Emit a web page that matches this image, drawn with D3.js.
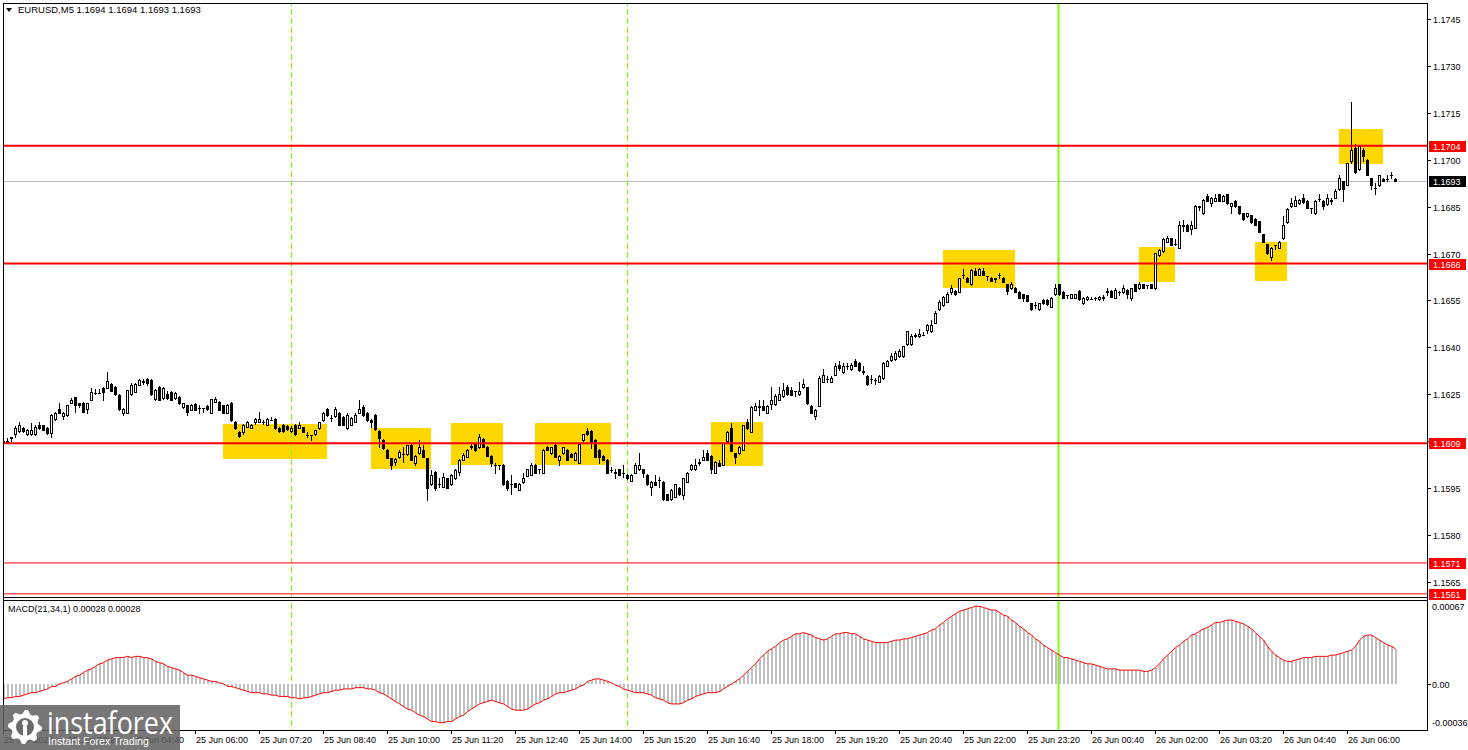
<!DOCTYPE html>
<html><head><meta charset="utf-8">
<script src="https://cdn.jsdelivr.net/npm/d3@7"></script>
<style>html,body{margin:0;padding:0;background:#fff;overflow:hidden}</style>
</head><body><svg id="c" width="1468" height="750"></svg>
<script>
const symbolName = "EURUSD,M5";
const open = [1.16098,1.16098,1.16111,1.16122,1.16133,1.16143,1.16122,1.16122,1.16122,1.16152,
1.16150,1.16143,1.16125,1.16171,1.16202,1.16181,1.16184,1.16223,1.16240,1.16221,
1.16223,1.16203,1.16232,1.16253,1.16254,1.16271,1.16271,1.16283,1.16274,1.16248,
1.16191,1.16191,1.16251,1.16258,1.16280,1.16290,1.16299,1.16296,1.16234,1.16274,
1.16237,1.16250,1.16258,1.16237,1.16242,1.16208,1.16214,1.16200,1.16219,1.16205,
1.16205,1.16213,1.16191,1.16226,1.16226,1.16214,1.16191,1.16223,1.16160,1.16130,
1.16130,1.16146,1.16143,1.16160,1.16162,1.16160,1.16152,1.16167,1.16170,1.16143,
1.16152,1.16149,1.16133,1.16152,1.16143,1.16144,1.16120,1.16118,1.16122,1.16141,
1.16168,1.16202,1.16173,1.16181,1.16191,1.16178,1.16141,1.16152,1.16162,1.16191,
1.16210,1.16191,1.16168,1.16184,1.16133,1.16104,1.16072,1.16045,1.16032,1.16050,
1.16058,1.16058,1.16088,1.16029,1.16061,1.16072,1.16045,1.15962,1.16002,1.15962,
1.15954,1.15981,1.15962,1.15981,1.16002,1.16040,1.16050,1.16082,1.16091,1.16080,
1.16106,1.16082,1.16053,1.16024,1.16023,1.16024,1.15973,1.15962,1.15965,1.15944,
1.15970,1.15989,1.15992,1.16024,1.16010,1.15999,1.16082,1.16061,1.16088,1.16040,
1.16061,1.16072,1.16058,1.16040,1.16031,1.16102,1.16133,1.16133,1.16104,1.16072,
1.16053,1.16040,1.16008,1.15999,1.16010,1.15997,1.15992,1.15973,1.15999,1.16010,
1.16010,1.15992,1.15954,1.15970,1.15976,1.15970,1.15930,1.15914,1.15922,1.15951,
1.15928,1.15970,1.16010,1.16010,1.16031,1.16040,1.16061,1.16053,1.15999,1.16029,
1.16024,1.16099,1.16141,1.16061,1.16061,1.16072,1.16160,1.16130,1.16200,1.16210,
1.16213,1.16191,1.16219,1.16219,1.16232,1.16243,1.16272,1.16264,1.16259,1.16250,
1.16272,1.16272,1.16213,1.16181,1.16213,1.16290,1.16299,1.16290,1.16312,1.16344,
1.16320,1.16339,1.16330,1.16355,1.16351,1.16323,1.16309,1.16298,1.16296,1.16290,
1.16301,1.16341,1.16358,1.16362,1.16371,1.16371,1.16411,1.16411,1.16437,1.16435,
1.16440,1.16456,1.16451,1.16479,1.16523,1.16534,1.16546,1.16578,1.16581,1.16578,
1.16632,1.16623,1.16602,1.16645,1.16632,1.16645,1.16628,1.16623,1.16621,1.16632,
1.16623,1.16602,1.16589,1.16591,1.16578,1.16570,1.16566,1.16541,1.16536,1.16523,
1.16552,1.16552,1.16530,1.16570,1.16602,1.16578,1.16568,1.16559,1.16559,1.16581,
1.16541,1.16555,1.16555,1.16559,1.16555,1.16559,1.16578,1.16581,1.16559,1.16578,
1.16576,1.16584,1.16559,1.16602,1.16589,1.16602,1.16600,1.16602,1.16589,1.16694,
1.16707,1.16738,1.16749,1.16730,1.16719,1.16792,1.16792,1.16779,1.16783,1.16851,
1.16829,1.16883,1.16861,1.16869,1.16890,1.16869,1.16890,1.16851,1.16869,1.16851,
1.16829,1.16819,1.16822,1.16811,1.16803,1.16762,1.16730,1.16690,1.16728,1.16719,
1.16749,1.16800,1.16851,1.16853,1.16861,1.16877,1.16869,1.16845,1.16829,1.16875,
1.16869,1.16858,1.16869,1.16879,1.16907,1.16931,1.16920,1.16995,1.17039,1.16971,
1.17032,1.17000,1.16941,1.16909,1.16918,1.16939,1.16939,1.16952,1.16940];
const high = [1.16106,1.16111,1.16113,1.16149,1.16160,1.16146,1.16139,1.16159,1.16150,1.16160,
1.16152,1.16146,1.16186,1.16194,1.16221,1.16194,1.16216,1.16237,1.16242,1.16223,
1.16226,1.16223,1.16269,1.16267,1.16267,1.16273,1.16320,1.16286,1.16276,1.16250,
1.16206,1.16264,1.16285,1.16286,1.16299,1.16299,1.16303,1.16299,1.16267,1.16276,
1.16274,1.16261,1.16261,1.16258,1.16244,1.16223,1.16216,1.16219,1.16221,1.16216,
1.16207,1.16216,1.16236,1.16240,1.16228,1.16216,1.16219,1.16226,1.16165,1.16133,
1.16154,1.16165,1.16154,1.16173,1.16192,1.16168,1.16173,1.16178,1.16173,1.16146,
1.16154,1.16152,1.16149,1.16154,1.16160,1.16146,1.16130,1.16120,1.16136,1.16162,
1.16194,1.16205,1.16184,1.16210,1.16194,1.16181,1.16191,1.16178,1.16191,1.16232,
1.16216,1.16194,1.16170,1.16186,1.16136,1.16106,1.16074,1.16047,1.16045,1.16072,
1.16082,1.16088,1.16090,1.16054,1.16104,1.16088,1.16047,1.16008,1.16004,1.15981,
1.15997,1.15983,1.15994,1.16010,1.16042,1.16061,1.16074,1.16093,1.16093,1.16122,
1.16109,1.16084,1.16055,1.16029,1.16025,1.16026,1.15975,1.15992,1.15967,1.15965,
1.15999,1.16012,1.16031,1.16026,1.16012,1.16074,1.16084,1.16082,1.16090,1.16055,
1.16082,1.16074,1.16061,1.16066,1.16093,1.16124,1.16143,1.16135,1.16106,1.16074,
1.16055,1.16042,1.16018,1.16010,1.16012,1.16024,1.15994,1.15994,1.16031,1.16061,
1.16012,1.15994,1.15972,1.15992,1.15986,1.15972,1.15932,1.15946,1.15964,1.15953,
1.15983,1.16001,1.16026,1.16042,1.16042,1.16072,1.16072,1.16055,1.16036,1.16040,
1.16095,1.16132,1.16159,1.16063,1.16084,1.16152,1.16170,1.16212,1.16223,1.16232,
1.16232,1.16215,1.16272,1.16250,1.16274,1.16285,1.16280,1.16274,1.16261,1.16290,
1.16298,1.16274,1.16215,1.16202,1.16309,1.16330,1.16309,1.16309,1.16351,1.16355,
1.16349,1.16351,1.16351,1.16362,1.16353,1.16339,1.16311,1.16312,1.16303,1.16311,
1.16353,1.16358,1.16381,1.16387,1.16394,1.16405,1.16453,1.16442,1.16445,1.16458,
1.16450,1.16474,1.16488,1.16515,1.16552,1.16564,1.16578,1.16600,1.16583,1.16623,
1.16651,1.16625,1.16650,1.16653,1.16653,1.16653,1.16629,1.16625,1.16622,1.16637,
1.16625,1.16604,1.16610,1.16593,1.16580,1.16572,1.16568,1.16543,1.16544,1.16543,
1.16554,1.16554,1.16561,1.16602,1.16604,1.16580,1.16569,1.16572,1.16572,1.16583,
1.16561,1.16564,1.16562,1.16560,1.16564,1.16566,1.16589,1.16583,1.16591,1.16579,
1.16600,1.16586,1.16591,1.16604,1.16610,1.16604,1.16601,1.16604,1.16703,1.16714,
1.16749,1.16755,1.16751,1.16747,1.16803,1.16808,1.16794,1.16803,1.16855,1.16852,
1.16874,1.16890,1.16881,1.16890,1.16892,1.16888,1.16892,1.16863,1.16871,1.16853,
1.16831,1.16831,1.16824,1.16813,1.16805,1.16764,1.16732,1.16721,1.16729,1.16740,
1.16819,1.16845,1.16879,1.16883,1.16874,1.16890,1.16871,1.16847,1.16871,1.16890,
1.16871,1.16890,1.16879,1.16907,1.16952,1.16933,1.16991,1.17185,1.17050,1.17045,
1.17037,1.17002,1.16943,1.16925,1.16952,1.16941,1.16950,1.16960,1.16942];
const low = [1.16097,1.16097,1.16100,1.16114,1.16130,1.16130,1.16120,1.16120,1.16120,1.16139,
1.16134,1.16122,1.16114,1.16168,1.16189,1.16171,1.16181,1.16221,1.16192,1.16210,
1.16192,1.16191,1.16230,1.16252,1.16253,1.16232,1.16269,1.16259,1.16248,1.16200,
1.16184,1.16189,1.16249,1.16256,1.16278,1.16283,1.16278,1.16248,1.16232,1.16230,
1.16234,1.16234,1.16230,1.16234,1.16219,1.16205,1.16184,1.16198,1.16198,1.16189,
1.16194,1.16200,1.16189,1.16224,1.16198,1.16189,1.16189,1.16165,1.16139,1.16112,
1.16122,1.16144,1.16141,1.16154,1.16160,1.16154,1.16150,1.16166,1.16139,1.16130,
1.16130,1.16134,1.16130,1.16120,1.16141,1.16128,1.16112,1.16104,1.16118,1.16139,
1.16165,1.16181,1.16165,1.16178,1.16150,1.16150,1.16139,1.16150,1.16160,1.16189,
1.16181,1.16165,1.16146,1.16136,1.16082,1.16074,1.16045,1.16011,1.16024,1.16045,
1.16034,1.16056,1.16038,1.16024,1.16059,1.16048,1.15912,1.15960,1.15944,1.15954,
1.15952,1.15949,1.15960,1.15979,1.15992,1.16038,1.16048,1.16076,1.16068,1.16078,
1.16080,1.16051,1.16021,1.15999,1.16010,1.15960,1.15944,1.15930,1.15952,1.15942,
1.15965,1.15987,1.15990,1.15997,1.15997,1.15997,1.16070,1.16059,1.16048,1.16024,
1.16059,1.16038,1.16048,1.16038,1.16029,1.16099,1.16121,1.16079,1.16048,1.16029,
1.16038,1.15997,1.16002,1.15981,1.15990,1.15986,1.15979,1.15971,1.15997,1.16008,
1.15986,1.15960,1.15928,1.15958,1.15954,1.15912,1.15910,1.15912,1.15920,1.15928,
1.15915,1.15968,1.16008,1.16008,1.16024,1.16038,1.16038,1.15999,1.15997,1.16019,
1.16022,1.16097,1.16067,1.16031,1.16059,1.16070,1.16139,1.16128,1.16198,1.16184,
1.16198,1.16189,1.16202,1.16217,1.16230,1.16241,1.16249,1.16246,1.16245,1.16248,
1.16270,1.16219,1.16189,1.16170,1.16211,1.16288,1.16290,1.16288,1.16310,1.16328,
1.16318,1.16330,1.16328,1.16339,1.16324,1.16315,1.16281,1.16285,1.16283,1.16288,
1.16299,1.16339,1.16356,1.16360,1.16369,1.16369,1.16409,1.16409,1.16432,1.16433,
1.16439,1.16445,1.16449,1.16477,1.16521,1.16532,1.16544,1.16570,1.16568,1.16576,
1.16623,1.16608,1.16600,1.16630,1.16630,1.16630,1.16615,1.16611,1.16610,1.16621,
1.16608,1.16570,1.16587,1.16576,1.16557,1.16549,1.16547,1.16521,1.16525,1.16521,
1.16539,1.16536,1.16528,1.16568,1.16568,1.16557,1.16557,1.16557,1.16557,1.16553,
1.16539,1.16553,1.16554,1.16550,1.16553,1.16552,1.16568,1.16560,1.16557,1.16568,
1.16574,1.16559,1.16552,1.16579,1.16587,1.16589,1.16591,1.16589,1.16587,1.16692,
1.16705,1.16736,1.16726,1.16729,1.16717,1.16773,1.16771,1.16762,1.16781,1.16840,
1.16827,1.16867,1.16851,1.16867,1.16867,1.16867,1.16859,1.16829,1.16849,1.16827,
1.16809,1.16817,1.16798,1.16790,1.16768,1.16736,1.16699,1.16680,1.16715,1.16717,
1.16747,1.16798,1.16849,1.16851,1.16859,1.16862,1.16845,1.16829,1.16827,1.16867,
1.16843,1.16856,1.16858,1.16877,1.16905,1.16869,1.16918,1.16989,1.16958,1.16969,
1.16997,1.16950,1.16907,1.16890,1.16916,1.16931,1.16931,1.16941,1.16931];
const close = [1.16099,1.16099,1.16112,1.16141,1.16152,1.16133,1.16136,1.16134,1.16146,1.16141,
1.16136,1.16125,1.16184,1.16191,1.16191,1.16191,1.16214,1.16232,1.16214,1.16214,
1.16194,1.16221,1.16258,1.16254,1.16255,1.16256,1.16293,1.16261,1.16250,1.16203,
1.16203,1.16262,1.16278,1.16283,1.16296,1.16291,1.16285,1.16250,1.16264,1.16232,
1.16271,1.16237,1.16232,1.16253,1.16221,1.16221,1.16194,1.16216,1.16200,1.16206,
1.16206,1.16203,1.16234,1.16235,1.16200,1.16191,1.16216,1.16168,1.16141,1.16117,
1.16152,1.16160,1.16152,1.16170,1.16170,1.16161,1.16170,1.16168,1.16141,1.16133,
1.16133,1.16138,1.16143,1.16122,1.16152,1.16130,1.16121,1.16119,1.16134,1.16160,
1.16191,1.16184,1.16174,1.16202,1.16152,1.16152,1.16184,1.16175,1.16184,1.16202,
1.16184,1.16168,1.16160,1.16139,1.16109,1.16077,1.16047,1.16024,1.16042,1.16064,
1.16059,1.16086,1.16040,1.16052,1.16082,1.16050,1.15949,1.15992,1.15951,1.15963,
1.15986,1.15951,1.15992,1.16008,1.16040,1.16054,1.16072,1.16083,1.16070,1.16114,
1.16082,1.16053,1.16029,1.16025,1.16024,1.15962,1.15951,1.15963,1.15954,1.15963,
1.15981,1.16010,1.16024,1.15999,1.16011,1.16072,1.16072,1.16080,1.16050,1.16053,
1.16080,1.16040,1.16050,1.16063,1.16091,1.16122,1.16123,1.16095,1.16050,1.16050,
1.16040,1.15999,1.16009,1.16000,1.15992,1.15998,1.15981,1.15992,1.16024,1.16024,
1.15997,1.15962,1.15970,1.15960,1.15977,1.15914,1.15912,1.15944,1.15962,1.15930,
1.15981,1.15999,1.16024,1.16024,1.16032,1.16050,1.16040,1.16010,1.16034,1.16021,
1.16093,1.16130,1.16069,1.16050,1.16082,1.16150,1.16141,1.16210,1.16213,1.16211,
1.16200,1.16213,1.16232,1.16243,1.16251,1.16264,1.16251,1.16248,1.16260,1.16261,
1.16283,1.16221,1.16191,1.16200,1.16301,1.16312,1.16300,1.16301,1.16339,1.16333,
1.16339,1.16340,1.16344,1.16341,1.16326,1.16322,1.16283,1.16299,1.16297,1.16309,
1.16351,1.16355,1.16371,1.16381,1.16389,1.16403,1.16451,1.16435,1.16438,1.16443,
1.16441,1.16472,1.16472,1.16511,1.16544,1.16562,1.16570,1.16589,1.16570,1.16621,
1.16633,1.16610,1.16648,1.16632,1.16651,1.16632,1.16627,1.16613,1.16620,1.16631,
1.16610,1.16581,1.16602,1.16578,1.16559,1.16557,1.16549,1.16523,1.16537,1.16541,
1.16541,1.16538,1.16559,1.16589,1.16570,1.16559,1.16567,1.16570,1.16570,1.16555,
1.16559,1.16562,1.16556,1.16558,1.16562,1.16560,1.16579,1.16562,1.16584,1.16577,
1.16589,1.16570,1.16589,1.16581,1.16602,1.16591,1.16599,1.16591,1.16701,1.16712,
1.16747,1.16749,1.16728,1.16731,1.16790,1.16787,1.16773,1.16792,1.16853,1.16850,
1.16872,1.16869,1.16879,1.16879,1.16869,1.16883,1.16861,1.16861,1.16851,1.16829,
1.16811,1.16829,1.16800,1.16792,1.16770,1.16738,1.16701,1.16719,1.16727,1.16738,
1.16792,1.16843,1.16861,1.16872,1.16872,1.16864,1.16847,1.16846,1.16869,1.16876,
1.16851,1.16879,1.16870,1.16899,1.16941,1.16907,1.16989,1.17032,1.16960,1.17043,
1.17011,1.16952,1.16918,1.16910,1.16950,1.16933,1.16940,1.16951,1.16932];
const macdValues = [-0.00012,-0.00011,-0.00011,-0.00010,-0.00010,-0.00009,-0.00008,-0.00007,-0.00007,-0.00006,
-0.00005,-0.00004,-0.00002,-0.00002,0.00000,0.00001,0.00002,0.00004,0.00006,0.00007,
0.00009,0.00011,0.00012,0.00014,0.00016,0.00017,0.00019,0.00020,0.00021,0.00021,
0.00021,0.00022,0.00021,0.00022,0.00022,0.00021,0.00021,0.00020,0.00018,0.00017,
0.00016,0.00014,0.00013,0.00012,0.00011,0.00009,0.00007,0.00007,0.00006,0.00005,
0.00004,0.00003,0.00002,0.00002,0.00001,0.00000,-0.00002,-0.00002,-0.00003,-0.00004,
-0.00005,-0.00006,-0.00007,-0.00007,-0.00007,-0.00008,-0.00008,-0.00009,-0.00009,-0.00010,
-0.00010,-0.00010,-0.00011,-0.00011,-0.00012,-0.00011,-0.00011,-0.00010,-0.00009,-0.00008,
-0.00007,-0.00007,-0.00006,-0.00005,-0.00005,-0.00004,-0.00004,-0.00004,-0.00003,-0.00003,
-0.00003,-0.00004,-0.00004,-0.00005,-0.00007,-0.00008,-0.00010,-0.00012,-0.00014,-0.00016,
-0.00018,-0.00020,-0.00021,-0.00023,-0.00025,-0.00026,-0.00028,-0.00030,-0.00030,-0.00031,
-0.00031,-0.00030,-0.00030,-0.00028,-0.00026,-0.00025,-0.00022,-0.00020,-0.00018,-0.00016,
-0.00015,-0.00014,-0.00013,-0.00014,-0.00015,-0.00016,-0.00018,-0.00020,-0.00021,-0.00021,
-0.00021,-0.00020,-0.00018,-0.00016,-0.00015,-0.00013,-0.00012,-0.00010,-0.00008,-0.00007,
-0.00007,-0.00006,-0.00005,-0.00004,-0.00002,-0.00001,0.00002,0.00003,0.00004,0.00004,
0.00003,0.00002,0.00001,-0.00001,-0.00002,-0.00004,-0.00005,-0.00006,-0.00007,-0.00007,
-0.00007,-0.00008,-0.00009,-0.00011,-0.00012,-0.00013,-0.00015,-0.00016,-0.00016,-0.00016,
-0.00015,-0.00013,-0.00012,-0.00010,-0.00009,-0.00008,-0.00007,-0.00007,-0.00007,-0.00006,
-0.00004,-0.00002,0.00000,0.00002,0.00004,0.00007,0.00010,0.00013,0.00016,0.00020,
0.00023,0.00026,0.00028,0.00030,0.00033,0.00035,0.00036,0.00038,0.00040,0.00040,
0.00041,0.00040,0.00039,0.00037,0.00036,0.00035,0.00036,0.00038,0.00040,0.00040,
0.00041,0.00041,0.00040,0.00040,0.00038,0.00036,0.00035,0.00034,0.00033,0.00033,
0.00033,0.00033,0.00034,0.00035,0.00035,0.00036,0.00036,0.00037,0.00038,0.00039,
0.00040,0.00041,0.00043,0.00044,0.00047,0.00049,0.00052,0.00054,0.00056,0.00058,
0.00059,0.00060,0.00061,0.00062,0.00062,0.00061,0.00060,0.00059,0.00059,0.00057,
0.00055,0.00054,0.00051,0.00049,0.00046,0.00044,0.00041,0.00039,0.00036,0.00034,
0.00031,0.00029,0.00027,0.00025,0.00023,0.00021,0.00021,0.00020,0.00019,0.00018,
0.00017,0.00016,0.00016,0.00015,0.00014,0.00013,0.00012,0.00012,0.00012,0.00011,
0.00011,0.00011,0.00011,0.00011,0.00011,0.00010,0.00010,0.00011,0.00013,0.00016,
0.00020,0.00023,0.00026,0.00029,0.00031,0.00034,0.00036,0.00039,0.00040,0.00042,
0.00044,0.00045,0.00047,0.00049,0.00049,0.00050,0.00051,0.00051,0.00050,0.00049,
0.00048,0.00046,0.00044,0.00041,0.00038,0.00035,0.00030,0.00026,0.00023,0.00021,
0.00019,0.00018,0.00018,0.00019,0.00020,0.00021,0.00021,0.00021,0.00022,0.00022,
0.00022,0.00022,0.00023,0.00023,0.00024,0.00025,0.00026,0.00027,0.00030,0.00035,
0.00038,0.00039,0.00039,0.00037,0.00035,0.00033,0.00031,0.00030,0.00028];
const priceTicks = [1.1745,1.1730,1.1715,1.1700,1.1685,1.1670,1.1655,1.1640,1.1625,1.1610,1.1595,1.1580,1.1565];
const timeTickLabels = ["25 Jun 2025","25 Jun 03:20","25 Jun 04:40","25 Jun 06:00","25 Jun 07:20","25 Jun 08:40","25 Jun 10:00","25 Jun 11:20","25 Jun 12:40","25 Jun 14:00","25 Jun 15:20","25 Jun 16:40","25 Jun 18:00","25 Jun 19:20","25 Jun 20:40","25 Jun 22:00","25 Jun 23:20","26 Jun 00:40","26 Jun 02:00","26 Jun 03:20","26 Jun 04:40","26 Jun 06:00"];
const timeTickIndex = [0,16,32,48,64,80,96,112,128,144,160,176,192,208,224,240,256,272,288,304,320,336];
const levelPrices = [1.17045,1.16668,1.16093,1.15710,1.15611];
const levelLabels = ["1.1704","1.1666","1.1609","1.1571","1.1561"];
const zoneStart = [55,92,112,133,177,235,284,313,334];
const zoneEnd = [81,107,125,152,190,253,293,321,345];
const zoneTop = [1.16155,1.16142,1.16158,1.16158,1.16161,1.16712,1.16722,1.16738,1.17099];
const zoneBottom = [1.16043,1.16011,1.16024,1.16024,1.16021,1.16590,1.16610,1.16613,1.16987];
const sessionMarks = [72,156];
const dayMarks = [264];
const macdTicks = [0.00067,0,-0.00036];
const macdTickLabels = ["0.00067","0.00","-0.00036"];

const svg = d3.select("#c");
const FONT = "Liberation Sans, Arial, sans-serif";
const L = 3, R = 1427, T = 3, MB = 597, ST = 600, B = 730;
const n = close.length;
const x = d3.scaleLinear().domain([0, n - 1]).range([3, 3 + 4 * (n - 1)]);
const y = d3.scaleLinear().domain([1.15601, 1.17502]).range([MB, T]);
const ym = d3.scaleLinear().domain([-0.00036, 0.00067]).range([B - 1, ST]);
const cx = i => Math.round(x(i));
const ry = v => Math.round(y(v));

svg.append("rect").attr("width",1468).attr("height",750).attr("fill","#fff");
const defs = svg.append("defs");
defs.append("clipPath").attr("id","cm").append("rect").attr("x",L+1).attr("y",T+1).attr("width",R-L-1).attr("height",MB-T-1);
defs.append("clipPath").attr("id","cs").append("rect").attr("x",L+1).attr("y",ST+1).attr("width",R-L-1).attr("height",B-ST-1);

const main = svg.append("g").attr("clip-path","url(#cm)");
const sub = svg.append("g").attr("clip-path","url(#cs)");

main.selectAll("rect.zone").data(zoneStart).join("rect").attr("class","zone")
  .attr("x",(d,k)=>cx(d)).attr("width",(d,k)=>cx(zoneEnd[k])-cx(d))
  .attr("y",(d,k)=>ry(zoneTop[k])).attr("height",(d,k)=>ry(zoneBottom[k])-ry(zoneTop[k]))
  .attr("fill","#FFD700");

main.append("line").attr("x1",L).attr("x2",R).attr("y1",ry(close[n-1])+0.5).attr("y2",ry(close[n-1])+0.5)
  .attr("stroke","#c0c0c0").attr("stroke-width",1);

[main, sub].forEach(g => {
  g.selectAll("line.sess").data(sessionMarks).join("line").attr("class","sess")
    .attr("x1",d=>cx(d)+0.5).attr("x2",d=>cx(d)+0.5).attr("y1",0).attr("y2",750)
    .attr("stroke","#7CFC00").attr("stroke-width",1).attr("stroke-dasharray","6,3");
  g.selectAll("line.day").data(dayMarks).join("line").attr("class","day")
    .attr("x1",d=>cx(d)-0.5).attr("x2",d=>cx(d)-0.5).attr("y1",0).attr("y2",750)
    .attr("stroke","#7CFC00").attr("stroke-width",2);
});

const cg = main.append("g");
for (let i = 0; i < n; i++) {
  const X = cx(i);
  cg.append("line").attr("x1",X+0.5).attr("x2",X+0.5).attr("y1",ry(high[i])).attr("y2",ry(low[i])+1)
    .attr("stroke","#000").attr("stroke-width",1);
  const yo = ry(open[i]), yc = ry(close[i]);
  if (yo === yc) {
    cg.append("line").attr("x1",X-1).attr("x2",X+2).attr("y1",yo+0.5).attr("y2",yo+0.5).attr("stroke","#000");
  } else if (close[i] > open[i]) {
    cg.append("rect").attr("x",X-0.5).attr("y",yc+0.5).attr("width",2).attr("height",yo-yc)
      .attr("fill","#fff").attr("stroke","#000").attr("stroke-width",1);
  } else {
    cg.append("rect").attr("x",X-1).attr("y",yo).attr("width",3).attr("height",yc-yo+1).attr("fill","#000");
  }
}

main.selectAll("line.lvl").data(levelPrices).join("line").attr("class","lvl")
  .attr("x1",L).attr("x2",R).attr("y1",d=>y(d)).attr("y2",d=>y(d))
  .attr("stroke","#FF0000").attr("stroke-width",(d,k)=>k<3?2:1);

sub.selectAll("rect.h").data(macdValues).join("rect").attr("class","h")
  .attr("x",(d,i)=>cx(i)).attr("width",2)
  .attr("y",d=>Math.round(Math.min(ym(d),ym(0)))).attr("height",d=>Math.max(1,Math.round(Math.abs(ym(d)-ym(0)))))
  .attr("fill","#c0c0c0");
sub.append("path").datum(macdValues)
  .attr("d", d3.line().x((d,i)=>cx(i)+0.5).y(d=>ym(d)))
  .attr("fill","none").attr("stroke","#FF0000").attr("stroke-width",1);

const fr = svg.append("g").attr("stroke","#000").attr("stroke-width",1).attr("shape-rendering","crispEdges");
fr.append("line").attr("x1",L+0.5).attr("x2",L+0.5).attr("y1",T).attr("y2",B+1);
fr.append("line").attr("x1",R+0.5).attr("x2",R+0.5).attr("y1",T).attr("y2",B+1);
fr.append("line").attr("x1",L).attr("x2",R+1).attr("y1",T+0.5).attr("y2",T+0.5);
fr.append("line").attr("x1",L).attr("x2",R+1).attr("y1",MB+0.5).attr("y2",MB+0.5);
fr.append("line").attr("x1",L).attr("x2",R+1).attr("y1",ST+0.5).attr("y2",ST+0.5);
fr.append("line").attr("x1",L).attr("x2",R+1).attr("y1",B+0.5).attr("y2",B+0.5);

const pa = svg.append("g").attr("font-family",FONT).attr("font-size",9);
priceTicks.forEach(p => {
  const yy = ry(p);
  pa.append("line").attr("x1",R+1).attr("x2",R+4).attr("y1",yy+0.5).attr("y2",yy+0.5).attr("stroke","#000");
  pa.append("text").attr("x",R+6).attr("y",yy+3.5).text(d3.format(".4f")(p));
});
levelPrices.forEach((p,k) => {
  const yy = y(p);
  pa.append("rect").attr("x",R+2).attr("y",Math.round(yy)-5).attr("width",37).attr("height",11).attr("fill","#FF0000");
  pa.append("text").attr("x",R+6).attr("y",Math.round(yy)+3.5).attr("fill","#fff").text(levelLabels[k]);
});
{
  const yy = ry(close[n-1]);
  pa.append("rect").attr("x",R+2).attr("y",yy-5).attr("width",37).attr("height",11).attr("fill","#000");
  pa.append("text").attr("x",R+6).attr("y",yy+4).attr("fill","#fff").text(d3.format(".4f")(Math.floor(close[n-1]*1e4)/1e4));
}
macdTicks.forEach((v,k) => {
  const yy = Math.round(ym(v));
  let ty = yy + 3.5;
  if (k === 0) ty = ST + 10;
  if (k === 2) ty = B - 4;
  if (k === 1) pa.append("line").attr("x1",R+1).attr("x2",R+4).attr("y1",yy+0.5).attr("y2",yy+0.5).attr("stroke","#000");
  pa.append("text").attr("x",R+5).attr("y",ty).text(macdTickLabels[k]);
});

const ta = svg.append("g").attr("font-family",FONT).attr("font-size",9);
timeTickIndex.forEach((ix,k) => {
  const X = cx(ix);
  ta.append("line").attr("x1",X+0.5).attr("x2",X+0.5).attr("y1",B+1).attr("y2",B+4).attr("stroke","#000");
  ta.append("text").attr("x",X+1).attr("y",B+13).text(timeTickLabels[k]);
});

const hd = svg.append("g").attr("font-family",FONT).attr("font-size",9.5);
hd.append("path").attr("d","M6,8 L12,8 L9,12 Z").attr("fill","#000");
const f4 = v => (Math.floor(v*1e4)/1e4).toFixed(4);
hd.append("text").attr("x",18).attr("y",13)
  .text(`${symbolName}  ${f4(open[n-1])} ${f4(high[n-1])} ${f4(low[n-1])} ${f4(close[n-1])}`);
hd.append("text").attr("x",8).attr("y",ST+12).attr("font-size",9)
  .text(`MACD(21,34,1) ${macdValues[n-1].toFixed(5)} ${macdValues[n-1].toFixed(5)}`);

const wm = svg.append("g");
wm.append("rect").attr("x",0).attr("y",705).attr("width",180).attr("height",45).attr("fill","#5f5f5f").attr("opacity",0.85);
const gc = [25, 727], teeth = 8, pts = [];
for (let k = 0; k < teeth * 4; k++) {
  const a = (k / (teeth * 4)) * 2 * Math.PI;
  const r = (k % 4 < 2) ? 17 : 13.5;
  pts.push([gc[0] + r * Math.cos(a), gc[1] + r * Math.sin(a)]);
}
wm.append("path").attr("d", d3.line()(pts) + "Z").attr("fill","#fff");
wm.append("circle").attr("cx",gc[0]).attr("cy",gc[1]).attr("r",9).attr("fill","#6a6a6a");
wm.append("circle").attr("cx",gc[0]).attr("cy",gc[1]-4).attr("r",3).attr("fill","#fff");
wm.append("path").attr("d",`M${gc[0]-2},${gc[1]-1} L${gc[0]+2},${gc[1]-1} L${gc[0]+2},${gc[1]+9} L${gc[0]-2},${gc[1]+9} Z`).attr("fill","#fff");
wm.append("text").attr("x",47).attr("y",734).attr("fill","#fff").attr("font-family","Open Sans, sans-serif")
  .attr("font-size",31).attr("textLength",126).attr("lengthAdjust","spacingAndGlyphs").text("instaforex");
wm.append("text").attr("x",48).attr("y",745).attr("fill","#fff").attr("font-family",FONT)
  .attr("font-size",10).attr("textLength",101).attr("lengthAdjust","spacingAndGlyphs").text("Instant Forex Trading");
</script></body></html>
